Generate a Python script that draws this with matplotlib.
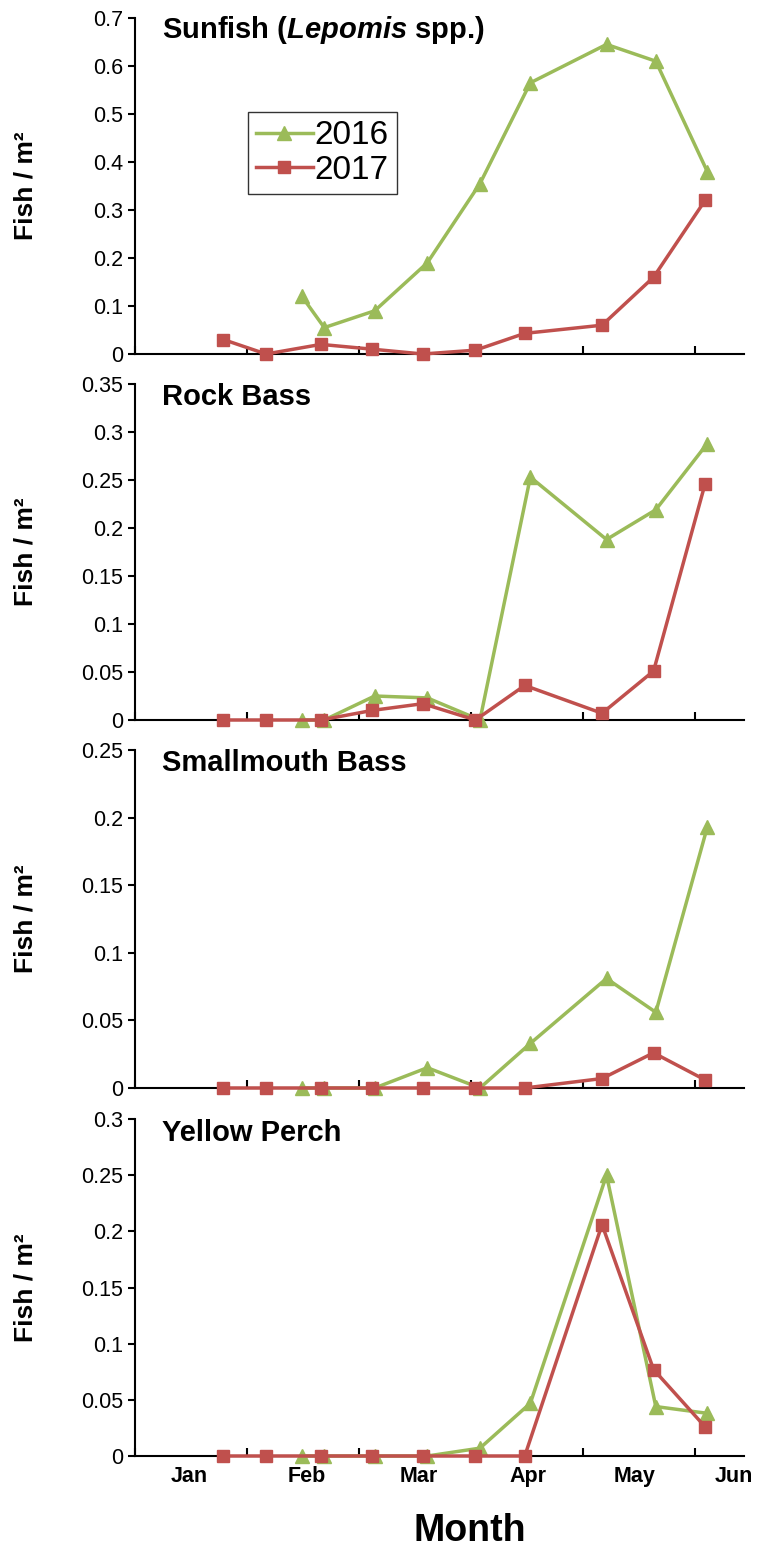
import matplotlib
matplotlib.use("Agg")
import matplotlib.pyplot as plt
from matplotlib.ticker import MultipleLocator

plt.rcParams['font.family'] = ['Liberation Sans', 'DejaVu Sans']
plt.rcParams['mathtext.fontset'] = 'custom'
plt.rcParams['mathtext.bfit'] = 'Liberation Sans:bold:italic'

months = ["Jan", "Feb", "Mar", "Apr", "May", "Jun"]
month_pos = [0.48, 1.53, 2.53, 3.51, 4.46, 5.35]
# x in month units (0 = start of Jan)
x2016 = [1.49, 1.69, 2.14, 2.61, 3.08, 3.53, 4.21, 4.65, 5.11]
x2017 = [0.79, 1.17, 1.66, 2.12, 2.57, 3.04, 3.48, 4.17, 4.63, 5.09]

titles = ["Sunfish", "Rock Bass", "Smallmouth Bass", "Yellow Perch"]
sun16 = [0.12, 0.055, 0.09, 0.19, 0.355, 0.565, 0.645, 0.61, 0.38]
sun17 = [0.03, 0, 0.02, 0.01, 0, 0.008, 0.043, 0.06, 0.16, 0.32]
rock16 = [0, 0, 0.025, 0.023, 0, 0.253, 0.188, 0.219, 0.288]
rock17 = [0, 0, 0, 0.01, 0.017, 0, 0.036, 0.007, 0.051, 0.246]
small16 = [0, 0, 0, 0.015, 0, 0.033, 0.081, 0.056, 0.193]
small17 = [0, 0, 0, 0, 0, 0, 0, 0.007, 0.026, 0.006]
perch16 = [0, 0, 0, 0, 0.007, 0.047, 0.25, 0.044, 0.038]
perch17 = [0, 0, 0, 0, 0, 0, 0, 0.206, 0.077, 0.026]

data16 = [sun16, rock16, small16, perch16]
data17 = [sun17, rock17, small17, perch17]
ysteps = [0.1, 0.05, 0.05, 0.05]
ymaxtick = [0.7, 0.35, 0.25, 0.3]

W, H = 758, 1548
fig = plt.figure(figsize=(W / 100, H / 100), dpi=100)
bounds = [(18, 354), (384, 720), (750, 1088), (1119, 1456)]
title_y = [30, 397, 763, 1133]
green, red = "#9BBB59", "#C0504D"
for i in range(4):
    t, b = bounds[i]
    ax = fig.add_axes([135 / W, 1 - b / H, (744 - 135) / W, (b - t) / H])
    l1, = ax.plot(x2016, data16[i], color=green, marker="^", ms=10, lw=2.5, label="2016", clip_on=False, zorder=3)
    l2, = ax.plot(x2017, data17[i], color=red, marker="s", ms=9, lw=2.5, label="2017", clip_on=False, zorder=3)
    ax.set_xlim(0, (744 - 135) / 112)
    ax.set_ylim(0, ymaxtick[i])
    ax.set_yticks([k * ysteps[i] for k in range(int(round(ymaxtick[i] / ysteps[i])) + 1)])
    ax.yaxis.set_major_formatter(plt.FuncFormatter(lambda v, p: "0" if v == 0 else f"{v:g}"))
    ax.xaxis.set_major_locator(MultipleLocator(1))
    ax.set_xticklabels([])
    for s in ["top", "right"]:
        ax.spines[s].set_visible(False)
    for s in ["left", "bottom"]:
        ax.spines[s].set_linewidth(1.5)
    ax.tick_params(axis="both", direction="out", width=1.5, length=5, labelsize=15.5)
    ax.tick_params(axis="x", direction="in", length=6)
    ax.set_ylabel("Fish / m²", fontsize=19, fontweight="bold")
    ax.yaxis.set_label_coords(-0.16, 0.5)
    ty = 1 - (title_y[i] - t) / (b - t)
    if i == 0:
        ax.text(0.045, ty, r"Sunfish ($\mathbfit{Lepomis}$ spp.)", transform=ax.transAxes, fontsize=21,
                fontweight="bold", va="center")
        leg = ax.legend(handles=[l1, l2], loc="upper left", bbox_to_anchor=(0.185, 0.72), fontsize=24,
                        frameon=True, fancybox=False, edgecolor="black", handlelength=1.7,
                        borderpad=0.25, labelspacing=0.1, handletextpad=0.05, borderaxespad=0)
        leg.get_frame().set_linewidth(1)
    else:
        ax.text(0.045, ty, titles[i], transform=ax.transAxes, fontsize=21, fontweight="bold", va="center")
    if i == 3:
        for k, m in enumerate(months):
            ax.text(month_pos[k], -0.03, m, transform=ax.get_xaxis_transform(), ha="center", va="top",
                    fontsize=15.5, fontweight="bold")
        ax.text(0.55, -0.17, "Month", transform=ax.transAxes, ha="center", va="top", fontsize=27, fontweight="bold")
fig.savefig("out.png", dpi=100)
